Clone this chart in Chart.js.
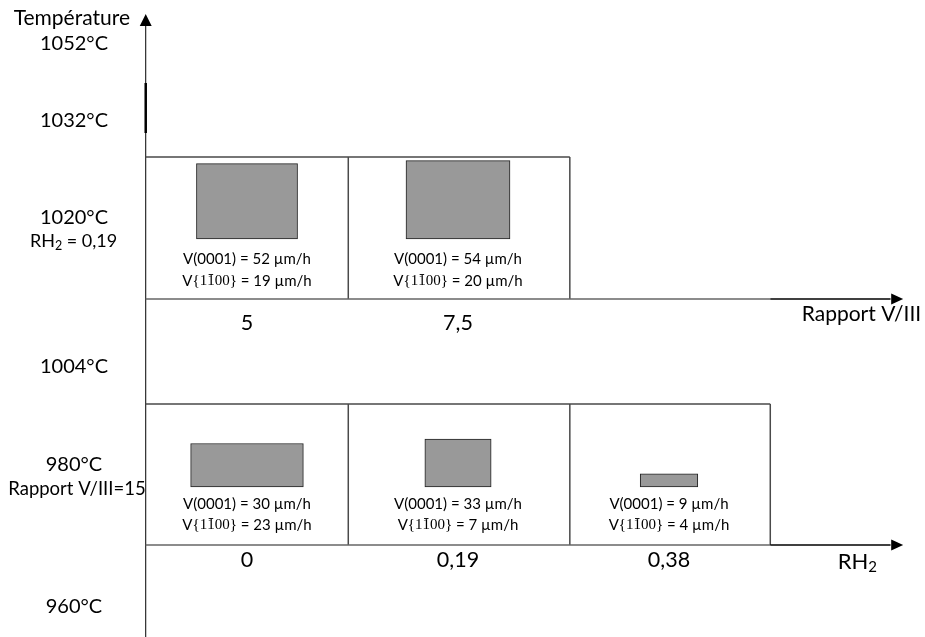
<!DOCTYPE html>
<html>
<head>
<meta charset="utf-8">
<script src="https://cdn.jsdelivr.net/npm/chart.js@4.4.1/dist/chart.umd.min.js"></script>
<style>
  html, body { margin: 0; padding: 0; background: #fff; }
  canvas { display: block; }
</style>
</head>
<body>
<canvas id="diagram" width="925" height="637"></canvas>
<script>
// values
const temperatures = ['1052°C', '1032°C', '1020°C', '1004°C', '980°C', '960°C'];
const ratioLabels = ['5', '7,5'];          // Rapport V/III at 1020°C, RH2 = 0,19
const ratioV0001 = [52, 54];               // µm/h
const ratioV1100 = [19, 20];               // µm/h
const rhLabels = ['0', '0,19', '0,38'];    // RH2 at 980°C, V/III = 15
const rhV0001 = [30, 33, 9];
const rhV1100 = [23, 7, 4];

// layout (diagram units: x = cell index, y = rows from the top)
const X_MIN = -247 / 211, X_MAX = 678 / 211;
const AXIS_X = -0.48;
const tempY = [44, 121, 218, 367, 465, 607];
const topPanel = {top: 157, base: 299, edges: [-0.48, 0.48, 1.53], boxBase: 239, text: [259, 281], labelY: 323};
const botPanel = {top: 404, base: 545, edges: [-0.48, 0.48, 1.53, 2.48], boxBase: 487, text: [504, 525], labelY: 560};
const H_PER_RATE = 1.45;                   // height per µm/h of V(0001)
const widthFor = v => 46 + 2.9 * v;        // lateral size from V{1-100}

const SANS = 'Lato, "Open Sans", sans-serif';
const SERIF = '"Liberation Serif", "DejaVu Serif", serif';

function rectSet(i, v0001, v1100, base) {
    return {
        data: [{x: i, y: [base - v0001 * H_PER_RATE, base]}],
        backgroundColor: '#999999',
        borderColor: '#222222',
        borderWidth: 1,
        borderSkipped: false,
        grouped: false,
        barPercentage: 1,
        categoryPercentage: 1,
        maxBarThickness: widthFor(v1100),
    };
}

const datasets = [
    ...ratioV0001.map((v, i) => rectSet(i, v, ratioV1100[i], topPanel.boxBase)),
    ...rhV0001.map((v, i) => rectSet(i, v, rhV1100[i], botPanel.boxBase)),
];

// draw a line of text made of runs with their own fonts (subscripts, overbars)
function drawRuns(ctx, runs, x, y, align) {
    let total = 0;
    runs.forEach(r => { ctx.font = r.font; r.w = ctx.measureText(r.t).width; total += r.w; });
    let cx = align === 'center' ? x - total / 2 : align === 'right' ? x - total : x;
    ctx.textBaseline = 'middle';
    ctx.textAlign = 'left';
    runs.forEach(r => {
        ctx.font = r.font;
        ctx.fillText(r.t, cx, y + (r.dy || 0));
        if (r.bar) {
            ctx.beginPath();
            ctx.lineWidth = 0.9;
            ctx.moveTo(cx + r.w * 0.2, y - 6.5);
            ctx.lineTo(cx + r.w * 0.8, y - 6.5);
            ctx.stroke();
        }
        cx += r.w;
    });
}

function rateLines(v0001, v1100) {
    const s = '15px ' + SANS, f = '15px ' + SERIF;
    return [
        [{t: `V(0001) = ${v0001} µm/h`, font: s}],
        [{t: 'V', font: s}, {t: '{', font: f}, {t: '1', font: f}, {t: '1', font: f, bar: true},
         {t: '00', font: f}, {t: '}', font: f}, {t: ` = ${v1100} µm/h`, font: s}],
    ];
}

function arrowHead(ctx, tipX, tipY, dir) {
    ctx.beginPath();
    if (dir === 'up') {
        ctx.moveTo(tipX, tipY);
        ctx.lineTo(tipX - 6, tipY + 12);
        ctx.lineTo(tipX + 6, tipY + 12);
    } else {
        ctx.moveTo(tipX, tipY);
        ctx.lineTo(tipX - 12, tipY - 5.5);
        ctx.lineTo(tipX - 12, tipY + 5.5);
    }
    ctx.closePath();
    ctx.fill();
}

const framePlugin = {
    id: 'frame',
    beforeDatasetsDraw(chart) {
        const {ctx, scales: {x, y}} = chart;
        const X = v => x.getPixelForValue(v), Y = v => y.getPixelForValue(v);
        ctx.save();
        ctx.fillStyle = '#000';
        ctx.strokeStyle = '#000';

        // temperature axis
        ctx.lineWidth = 1;
        ctx.beginPath();
        ctx.moveTo(X(AXIS_X), Y(637));
        ctx.lineTo(X(AXIS_X), Y(25));
        ctx.stroke();
        arrowHead(ctx, X(AXIS_X), Y(14), 'up');
        ctx.lineWidth = 2.5;
        ctx.beginPath();
        ctx.moveTo(X(AXIS_X), Y(83));
        ctx.lineTo(X(AXIS_X), Y(133));
        ctx.stroke();

        // panels
        [topPanel, botPanel].forEach(p => {
            const left = X(p.edges[0]), right = X(p.edges[p.edges.length - 1]);
            ctx.strokeStyle = '#4a4a4a';
            ctx.lineWidth = 1.5;
            ctx.beginPath();
            ctx.moveTo(left, Y(p.top));
            ctx.lineTo(right, Y(p.top));
            p.edges.slice(1).forEach(e => {
                ctx.moveTo(X(e), Y(p.top));
                ctx.lineTo(X(e), Y(p.base));
            });
            ctx.stroke();
            ctx.strokeStyle = '#666';
            ctx.beginPath();
            ctx.moveTo(left, Y(p.base));
            ctx.lineTo(X(2.48), Y(p.base));
            ctx.stroke();
            ctx.strokeStyle = '#000';
            ctx.lineWidth = 1.5;
            ctx.beginPath();
            ctx.moveTo(X(2.48), Y(p.base));
            ctx.lineTo(X(3.05), Y(p.base));
            ctx.stroke();
            arrowHead(ctx, X(3.11), Y(p.base), 'right');
        });
        ctx.restore();
    },
    afterDatasetsDraw(chart) {
        const {ctx, scales: {x, y}} = chart;
        const X = v => x.getPixelForValue(v), Y = v => y.getPixelForValue(v);
        ctx.save();
        ctx.fillStyle = '#000';
        ctx.strokeStyle = '#000';
        const big = '20px ' + SANS, axisFont = '21px ' + SANS, side = '18.5px ' + SANS, tick = '21.5px ' + SANS;

        drawRuns(ctx, [{t: 'Température', font: axisFont}], X(-0.5545), Y(18), 'right');
        temperatures.forEach((t, i) => drawRuns(ctx, [{t, font: big}], X(-0.82), Y(tempY[i]), 'center'));
        drawRuns(ctx, [{t: 'RH', font: '18px ' + SANS}, {t: '2', font: '12.5px ' + SANS, dy: 4.5}, {t: ' = 0,19', font: '18px ' + SANS}],
            X(-0.822), Y(241), 'center');
        drawRuns(ctx, [{t: 'Rapport V/III=15', font: side}], X(-0.806), Y(489), 'center');

        ratioLabels.forEach((t, i) => {
            drawRuns(ctx, [{t, font: tick}], X(i), Y(topPanel.labelY), 'center');
            rateLines(ratioV0001[i], ratioV1100[i]).forEach((runs, k) =>
                drawRuns(ctx, runs, X(i), Y(topPanel.text[k]), 'center'));
        });
        rhLabels.forEach((t, i) => {
            drawRuns(ctx, [{t, font: tick}], X(i), Y(botPanel.labelY), 'center');
            rateLines(rhV0001[i], rhV1100[i]).forEach((runs, k) =>
                drawRuns(ctx, runs, X(i), Y(botPanel.text[k]), 'center'));
        });

        drawRuns(ctx, [{t: 'Rapport V/III', font: axisFont}], X(3.195), Y(314), 'right');
        drawRuns(ctx, [{t: 'RH', font: '22px ' + SANS}, {t: '2', font: '15px ' + SANS, dy: 5}], X(2.9858), Y(562), 'right');
        ctx.restore();
    }
};

new Chart(document.getElementById('diagram'), {
    type: 'bar',
    data: {datasets},
    options: {
        responsive: false,
        animation: false,
        events: [],
        layout: {padding: 0},
        scales: {
            x: {
                type: 'linear', min: X_MIN, max: X_MAX, offset: false, display: false, grid: {offset: false},
                // one tick per cell so the bar ruler does not cap the rectangle widths
                afterBuildTicks: s => { s.ticks = [0, 1, 2].map(value => ({value})); },
            },
            y: {type: 'linear', min: 0, max: 637, reverse: true, display: false},
        },
        plugins: {legend: {display: false}, tooltip: {enabled: false}},
    },
    plugins: [framePlugin],
});
</script>
</body>
</html>
